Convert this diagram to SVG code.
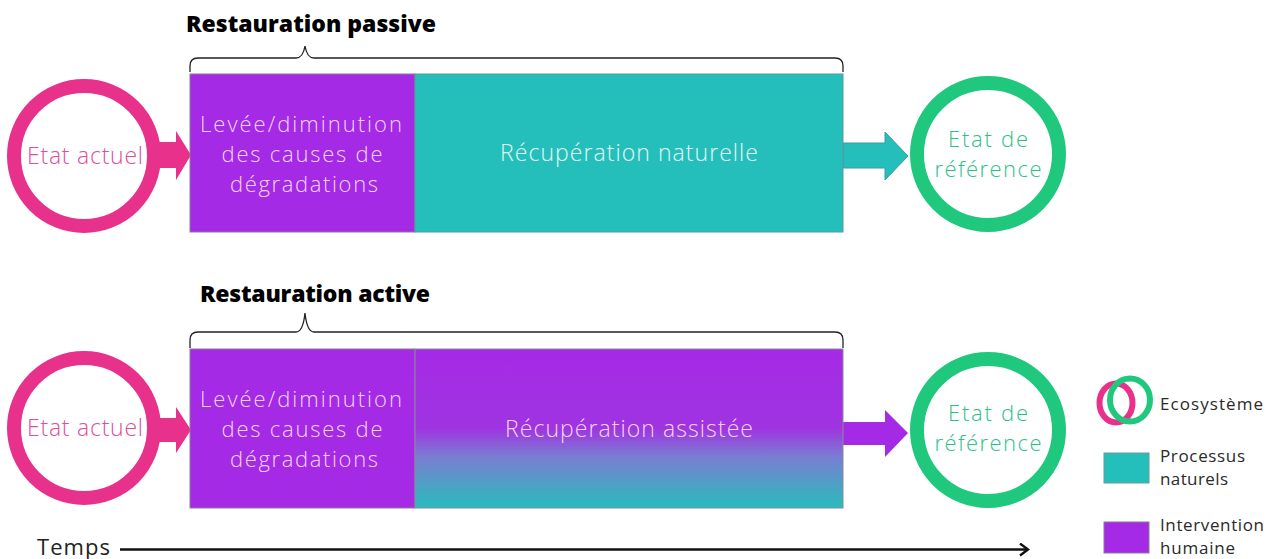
<svg xmlns="http://www.w3.org/2000/svg" width="1272" height="559" viewBox="0 0 1272 559">
<defs>
<style>
.t{font-family:"Open Sans","Noto Sans","Liberation Sans",sans-serif;font-weight:300;}
.title{font-family:"Open Sans","Noto Sans","Liberation Sans",sans-serif;font-weight:800;font-size:23px;fill:#000;}
.ring-p{fill:none;stroke:#e8318a;stroke-width:14;}
.ring-g{fill:none;stroke:#1fc87c;stroke-width:14;}
.purple{fill:#a42ae5;stroke:#8a7a9a;stroke-width:1;}
.teal{fill:#25bfbb;stroke:#5a9a98;stroke-width:1;}
.brace{fill:none;stroke:#222;stroke-width:1.3;}
.ptxt{fill:#f3d5f6;font-size:22px;}
.ttxt{fill:#e6f7f4;font-size:23px;}
.pinktxt{fill:#e04e9b;font-size:23px;}
.greentxt{fill:#2ebf89;font-size:22px;}
.leg{fill:#2a2a2a;font-size:17px;font-weight:400;}
</style>
<linearGradient id="grad" x1="0" y1="0" x2="0" y2="1">
<stop offset="0" stop-color="#a52ae6"/>
<stop offset="0.5" stop-color="#9f34e0"/>
<stop offset="0.68" stop-color="#7a7ed2"/>
<stop offset="1" stop-color="#27bdbc"/>
</linearGradient>
<marker id="chev" markerWidth="14" markerHeight="14" refX="11" refY="7" orient="auto" markerUnits="userSpaceOnUse">
<path d="M3,1 L11,7 L3,13" fill="none" stroke="#111" stroke-width="2.4"/>
</marker>
</defs>
<rect width="1272" height="559" fill="#fff"/>

<g id="connectors">
<path d="M150,142 H176 V131 L191,155 L176,180 V168 H150 Z" fill="#e8318a"/>
<path d="M843,143 H885 V132 L908,156 L885,180 V168 H843 Z" fill="#25bfbb" stroke="#3a9aa3" stroke-width="1"/>
<path d="M150,418 H176 V407 L191,430 L176,453 V442 H150 Z" fill="#e8318a"/>
<path d="M843,422 H885 V410 L908,433 L885,457 V445 H843 Z" fill="#a42ae5"/>
<path d="M120,549.5 H1028" stroke="#111" stroke-width="2.4" fill="none" marker-end="url(#chev)"/>
</g>

<g id="title-passive">
<text class="title" x="186" y="32" textLength="250" lengthAdjust="spacing">Restauration passive</text>
<path class="brace" d="M190,72 V66 Q190,58 198,58 H296 Q303,58 305,46 Q307,58 314,58 H835 Q843,58 843,66 V72"/>
</g>
<g id="etat-actuel-1">
<circle class="ring-p" cx="84" cy="156" r="70"/>
<text class="t pinktxt" x="85" y="164" text-anchor="middle" textLength="116" lengthAdjust="spacing">Etat actuel</text>
</g>
<g id="levee-1">
<rect class="purple" x="190" y="74" width="225" height="158"/>
<text class="t ptxt" text-anchor="middle"><tspan x="301" y="132" textLength="202" lengthAdjust="spacing">Levée/diminution</tspan><tspan x="302" y="162" textLength="161" lengthAdjust="spacing">des causes de</tspan><tspan x="304" y="192" textLength="148" lengthAdjust="spacing">dégradations</tspan></text>
</g>
<g id="recup-naturelle">
<rect class="teal" x="415" y="74" width="428" height="158"/>
<text class="t ttxt" x="629" y="161" text-anchor="middle" textLength="258" lengthAdjust="spacing">Récupération naturelle</text>
</g>
<g id="etat-ref-1">
<circle class="ring-g" cx="988" cy="154" r="71"/>
<text class="t greentxt" text-anchor="middle"><tspan x="988" y="147" textLength="80" lengthAdjust="spacing">Etat de</tspan><tspan x="988" y="177" textLength="107" lengthAdjust="spacing">référence</tspan></text>
</g>

<g id="title-active">
<text class="title" x="200" y="302" textLength="230" lengthAdjust="spacing">Restauration active</text>
<path class="brace" d="M190,348 V340 Q190,332 198,332 H296 Q303,332 305,313 Q307,332 314,332 H835 Q843,332 843,340 V348"/>
</g>
<g id="etat-actuel-2">
<circle class="ring-p" cx="84" cy="428" r="70"/>
<text class="t pinktxt" x="85" y="436" text-anchor="middle" textLength="116" lengthAdjust="spacing">Etat actuel</text>
</g>
<g id="levee-2">
<rect class="purple" x="190" y="349" width="225" height="159"/>
<text class="t ptxt" text-anchor="middle"><tspan x="301" y="407" textLength="202" lengthAdjust="spacing">Levée/diminution</tspan><tspan x="302" y="437" textLength="161" lengthAdjust="spacing">des causes de</tspan><tspan x="304" y="467" textLength="148" lengthAdjust="spacing">dégradations</tspan></text>
</g>
<g id="recup-assistee">
<rect x="415" y="349" width="428" height="159" fill="url(#grad)" stroke="#8a8a9a" stroke-width="1"/>
<text class="t ptxt" x="629" y="437" text-anchor="middle" textLength="248" lengthAdjust="spacing" style="font-size:23px">Récupération assistée</text>
</g>
<g id="etat-ref-2">
<circle class="ring-g" cx="988" cy="430" r="71"/>
<text class="t greentxt" text-anchor="middle"><tspan x="988" y="421" textLength="80" lengthAdjust="spacing">Etat de</tspan><tspan x="988" y="451" textLength="107" lengthAdjust="spacing">référence</tspan></text>
</g>

<g id="temps">
<text x="37" y="555" font-family="Open Sans, Noto Sans, Liberation Sans, sans-serif" font-size="22" fill="#222" textLength="73" lengthAdjust="spacing">Temps</text>
</g>

<g id="legend">
<ellipse cx="1116" cy="403" rx="16.5" ry="19.5" fill="none" stroke="#e8318a" stroke-width="6"/>
<ellipse cx="1130" cy="400" rx="20" ry="21.5" fill="none" stroke="#1fc87c" stroke-width="6"/>
<text class="t leg" x="1160" y="410" textLength="103" lengthAdjust="spacing">Ecosystème</text>
<rect x="1104" y="453" width="45" height="30" fill="#25bfbb" stroke="#6a9a9a" stroke-width="1"/>
<text class="t leg"><tspan x="1160" y="462" textLength="85" lengthAdjust="spacing">Processus</tspan><tspan x="1160" y="485" textLength="68" lengthAdjust="spacing">naturels</tspan></text>
<rect x="1104" y="522" width="45" height="31" fill="#a42ae5" stroke="#8a7a9a" stroke-width="1"/>
<text class="t leg"><tspan x="1160" y="531" textLength="104" lengthAdjust="spacing">Intervention</tspan><tspan x="1160" y="554" textLength="75" lengthAdjust="spacing">humaine</tspan></text>
</g>
</svg>
